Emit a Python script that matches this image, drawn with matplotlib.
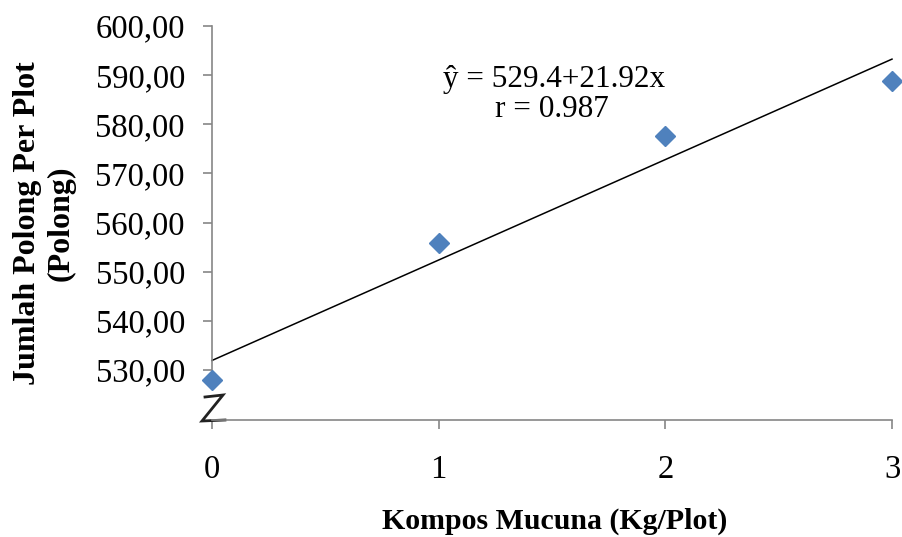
import numpy as np
import matplotlib
matplotlib.use("Agg")
import matplotlib.pyplot as plt

# Data
kompos = [0, 1, 2, 3]
polong = [528.0, 555.9, 577.6, 588.9]
yticks = [530, 540, 550, 560, 570, 580, 590, 600]
ytick_labels = ["530,00", "540,00", "550,00", "560,00", "570,00", "580,00", "590,00", "600,00"]
xticks = [0, 1, 2, 3]
eq_text = "ŷ = 529.4+21.92x"
r_text = "r = 0.987"

plt.rcParams['font.family'] = ['Liberation Serif', 'DejaVu Serif']

W, H = 902, 537
fig = plt.figure(figsize=(W / 100, H / 100), dpi=100)
ax = fig.add_axes([212 / W, 1 - 420 / H, (892 - 212) / W, (420 - 26) / H])

grey = "#868686"
ymin = 600 - (420 - 26) / ((370 - 26) / 70)
ax.set_xlim(0, 3)
ax.set_ylim(ymin, 600)

# trendline (least squares fit of data)
coef = np.polyfit(kompos, polong, 1)
xs = np.array([0, 3])
ax.plot(xs, np.polyval(coef, xs), color="black", lw=1.1, zorder=2, clip_on=False)

ax.plot(kompos, polong, linestyle="none", marker="D", ms=10.5,
        color="#4F81BD", markeredgecolor="#4F81BD", zorder=3, clip_on=False)

for s in ["top", "right"]:
    ax.spines[s].set_visible(False)
ax.spines["left"].set_bounds(530, 600)
ax.spines["left"].set_color(grey)
ax.spines["bottom"].set_color(grey)
ax.spines["left"].set_linewidth(1.2)
ax.spines["bottom"].set_linewidth(1.2)

ax.set_yticks(yticks)
ax.set_yticklabels(ytick_labels)
ax.set_xticks(xticks)
ax.tick_params(axis="both", direction="out", length=6.5, width=1.2, color=grey,
               labelsize=23.5, labelcolor="black")
ax.tick_params(axis="y", pad=13)
ax.tick_params(axis="x", pad=18)

# axis break symbol
def px(xp, yp):
    return ((xp - 212) / (892 - 212), (420 - yp) / (420 - 26))
zx = [205, 223, 202, 225]
zy = [397, 395, 421, 420]
pts = [px(a, b) for a, b in zip(zx, zy)]
ax.plot([p[0] for p in pts], [p[1] for p in pts], transform=ax.transAxes,
        color="#222222", lw=2.0, clip_on=False, solid_joinstyle="miter")

ax.text(0.503, 0.845, eq_text, transform=ax.transAxes, ha="center",
        va="baseline", fontsize=22.5)
ax.text(0.500, 0.768, r_text, transform=ax.transAxes, ha="center",
        va="baseline", fontsize=22.5)

fig.text(555 / W, 1 - 529 / H, "Kompos Mucuna (Kg/Plot)", ha="center",
         va="baseline", fontsize=21.5, fontweight="bold")
fig.text(44 / W, 1 - 223 / H, "Jumlah Polong Per Plot\n(Polong)", ha="center",
         va="center", rotation=90, fontsize=23, fontweight="bold",
         linespacing=1.2, multialignment="center")

fig.savefig("out.png", dpi=100)
